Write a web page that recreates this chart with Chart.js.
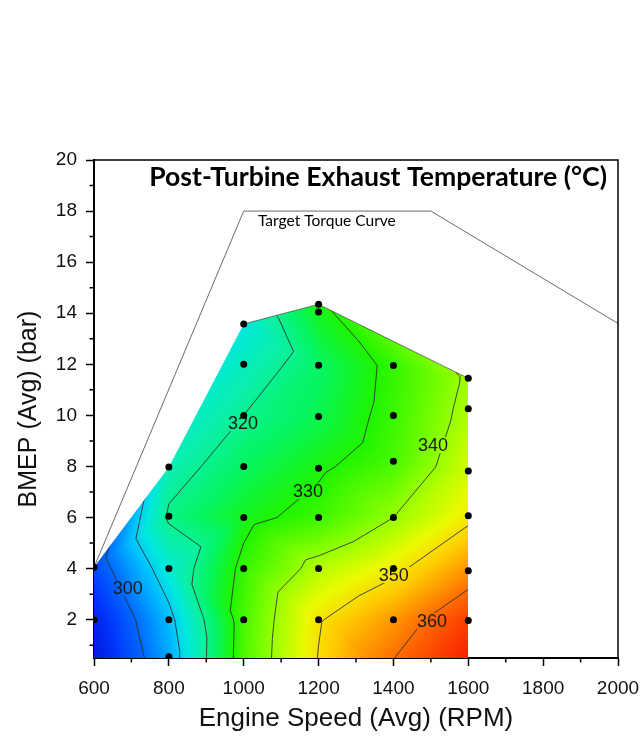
<!DOCTYPE html>
<html><head><meta charset="utf-8">
<script src="https://cdn.jsdelivr.net/npm/chart.js@4.4.0/dist/chart.umd.min.js"></script>
<style>html,body{margin:0;padding:0;background:#fff;}#wrap{width:641px;height:738px;}</style>
</head><body><div id="wrap"><canvas id="c" width="641" height="738"></canvas></div>
<script>
// ---- measured operating points (Engine speed RPM, BMEP bar, post-turbine exhaust temperature °C)
const speedRpm = [600,600,600, 800,800,800,800,800,
  1000,1000,1000,1000,1000,1000,1000,1000,
  1200,1200,1200,1200,1200,1200,1200,1200,1200,
  1400,1400,1400,1400,1400,1400,1400,
  1600,1600,1600,1600,1600,1600,1600];
const bmepBar = [0,2,4.05, 0.55,2,4,6.05,7.98,
  0,2,4,6,8,10,12,13.58,
  0,2,4,6,7.93,9.96,11.96,14.05,14.35,
  0,2,4,6,8.2,10,11.95,
  0,1.97,3.92,6.07,7.82,10.26,11.45];
const exhaustTempC = [287,290,296, 306,308,314,321,317,
  334,333.5,332,328,324,320,316,313,
  350.5,349.5,342.5,332.5,329,325,323.5,328,329,
  361,356.5,348.5,340,333.5,332.3,331.8,
  369,365,357,348.5,345,342,341];
// ---- outline of the mapped region
const regionRpm  = [600,600,800,1000,1200,1600,1600];
const regionBmep = [0,4.05,7.98,13.58,14.35,11.45,0];
// ---- target torque curve
const torqueRpm  = [600,1000,1500,2000];
const torqueBmep = [4.05,18,18,13.6];
// ---- contour levels and their labels
const contourLevels = [300,310,320,330,340,350,360];
const labelText = ['300','320','330','340','350','360'];
const labelRpm  = [690,998,1172,1506,1401,1503];
const labelBmep = [3.24,9.69,7.03,8.83,3.75,1.95];
// ---- axes
const xTickValues = [600,800,1000,1200,1400,1600,1800,2000];
const xMinorValues = [700,900,1100,1300,1500,1700,1900];
const yTickValues = [2,4,6,8,10,12,14,16,18,20];
const yMinorValues = [1,3,5,7,9,11,13,15,17,19];

const colorStops = [
  [285,[0,10,205]],[293,[0,50,250]],[300,[0,105,255]],[308,[0,190,255]],
  [313,[0,232,222]],[318,[10,240,170]],[324,[5,245,95]],[330,[30,245,0]],[340,[150,255,0]],
  [347,[235,250,0]],[352,[255,205,0]],[360,[255,110,0]],[368,[248,30,0]]];
function colorAt(T){
  if(T<=colorStops[0][0]) return colorStops[0][1];
  for(let i=1;i<colorStops.length;i++){
    if(T<=colorStops[i][0]){
      const [t0,c0]=colorStops[i-1],[t1,c1]=colorStops[i];
      const f=(T-t0)/(t1-t0);
      return [0,1,2].map(k=>Math.round(c0[k]+f*(c1[k]-c0[k])));
    }
  }
  return colorStops[colorStops.length-1][1];
}
function circum(P,t){
  const a=P[t[0]],b=P[t[1]],c=P[t[2]];
  const d=2*(a.x*(b.y-c.y)+b.x*(c.y-a.y)+c.x*(a.y-b.y));
  const A=a.x*a.x+a.y*a.y,B=b.x*b.x+b.y*b.y,C=c.x*c.x+c.y*c.y;
  const ux=(A*(b.y-c.y)+B*(c.y-a.y)+C*(a.y-b.y))/d;
  const uy=(A*(c.x-b.x)+B*(a.x-c.x)+C*(b.x-a.x))/d;
  return {x:ux,y:uy,r2:(a.x-ux)**2+(a.y-uy)**2};
}
function delaunay(pts){
  const n=pts.length;
  let minX=Infinity,minY=Infinity,maxX=-Infinity,maxY=-Infinity;
  pts.forEach(p=>{minX=Math.min(minX,p.x);minY=Math.min(minY,p.y);maxX=Math.max(maxX,p.x);maxY=Math.max(maxY,p.y);});
  const dm=Math.max(maxX-minX,maxY-minY)*30,mx=(minX+maxX)/2,my=(minY+maxY)/2;
  const P=pts.concat([{x:mx-dm,y:my-dm},{x:mx,y:my+dm},{x:mx+dm,y:my-dm}]);
  let tris=[{v:[n,n+1,n+2]}]; tris[0].c=circum(P,tris[0].v);
  for(let i=0;i<n;i++){
    const p=P[i],bad=[],keep=[];
    for(const t of tris){const dx=p.x-t.c.x,dy=p.y-t.c.y;(dx*dx+dy*dy<t.c.r2-1e-7?bad:keep).push(t);}
    const edges=new Map();
    for(const t of bad){const v=t.v;
      for(const [a,b] of [[v[0],v[1]],[v[1],v[2]],[v[2],v[0]]]){
        const k=a<b?a+','+b:b+','+a;
        if(edges.has(k)) edges.get(k).n++; else edges.set(k,{a,b,n:1});
      }}
    tris=keep;
    for(const e of edges.values()) if(e.n===1){const t={v:[e.a,e.b,i]};t.c=circum(P,t.v);tris.push(t);}
  }
  return tris.filter(t=>t.v.every(k=>k<n)).map(t=>t.v);
}
function regionPath(ctx,x,y){
  ctx.beginPath();
  regionRpm.forEach((r,i)=>{const X=x.getPixelForValue(r),Y=y.getPixelForValue(regionBmep[i]);i?ctx.lineTo(X,Y):ctx.moveTo(X,Y);});
  ctx.closePath();
}
const LABEL_FONT='18px "Liberation Sans", Arial, sans-serif';
const contourPlugin={
  id:'contour',
  beforeDatasetsDraw(chart){
    const {ctx,chartArea:a,scales:{x,y}}=chart;
    const pts=speedRpm.map((r,i)=>({x:x.getPixelForValue(r),y:y.getPixelForValue(bmepBar[i])}));
    const tris=delaunay(pts);
    const L0=Math.floor(a.left),T0=Math.floor(a.top);
    const W=Math.ceil(a.right)-L0,H=Math.ceil(a.bottom)-T0;
    const off=document.createElement('canvas');off.width=W;off.height=H;
    const octx=off.getContext('2d');const img=octx.createImageData(W,H);const d=img.data;
    for(const t of tris){
      const A=pts[t[0]],B=pts[t[1]],C=pts[t[2]];
      const ta=exhaustTempC[t[0]],tb=exhaustTempC[t[1]],tc=exhaustTempC[t[2]];
      const det=(B.y-C.y)*(A.x-C.x)+(C.x-B.x)*(A.y-C.y);
      const x0=Math.max(0,Math.floor(Math.min(A.x,B.x,C.x)-L0)-1),x1=Math.min(W-1,Math.ceil(Math.max(A.x,B.x,C.x)-L0)+1);
      const y0=Math.max(0,Math.floor(Math.min(A.y,B.y,C.y)-T0)-1),y1=Math.min(H-1,Math.ceil(Math.max(A.y,B.y,C.y)-T0)+1);
      for(let j=y0;j<=y1;j++)for(let i=x0;i<=x1;i++){
        const X=L0+i+0.5,Y=T0+j+0.5;
        const l1=((B.y-C.y)*(X-C.x)+(C.x-B.x)*(Y-C.y))/det;
        const l2=((C.y-A.y)*(X-C.x)+(A.x-C.x)*(Y-C.y))/det;
        const l3=1-l1-l2;
        if(l1<-1e-3||l2<-1e-3||l3<-1e-3) continue;
        const c=colorAt(l1*ta+l2*tb+l3*tc);const k=(j*W+i)*4;
        d[k]=c[0];d[k+1]=c[1];d[k+2]=c[2];d[k+3]=255;
      }
    }
    octx.putImageData(img,0,0);
    ctx.save();
    ctx.beginPath();ctx.rect(a.left,a.top,a.right-a.left,a.bottom-a.top);ctx.clip();
    regionPath(ctx,x,y);ctx.clip();
    ctx.drawImage(off,L0,T0);
    ctx.font=LABEL_FONT;
    const boxes=labelText.map((s,i)=>{const w=ctx.measureText(s).width;
      return {s,w,cx:x.getPixelForValue(labelRpm[i]),cy:y.getPixelForValue(labelBmep[i])};});
    ctx.save();
    ctx.beginPath();ctx.rect(a.left,a.top,a.right-a.left,a.bottom-a.top);
    boxes.forEach(b=>ctx.rect(b.cx-b.w/2-2,b.cy-8,b.w+4,16));
    ctx.clip('evenodd');
    ctx.beginPath();
    for(const L of contourLevels){
      for(const t of tris){
        const v=t.map(k=>exhaustTempC[k]===L?L+1e-6:exhaustTempC[k]);
        const sp=[];
        for(const [p,q] of [[0,1],[1,2],[2,0]]){
          if((v[p]-L)*(v[q]-L)<0){const f=(L-v[p])/(v[q]-v[p]);const P=pts[t[p]],Q=pts[t[q]];sp.push([P.x+f*(Q.x-P.x),P.y+f*(Q.y-P.y)]);}
        }
        if(sp.length===2){ctx.moveTo(sp[0][0],sp[0][1]);ctx.lineTo(sp[1][0],sp[1][1]);}
      }
    }
    ctx.strokeStyle='rgba(45,45,45,0.85)';ctx.lineWidth=1;ctx.stroke();
    ctx.restore();
    ctx.fillStyle='#1a1a1a';ctx.textAlign='center';ctx.textBaseline='middle';
    boxes.forEach(b=>ctx.fillText(b.s,b.cx,b.cy+1));
    ctx.restore();
    ctx.save();ctx.beginPath();
    for(let i=3;i<=5;i++){const X=x.getPixelForValue(regionRpm[i]),Y=y.getPixelForValue(regionBmep[i]);i===3?ctx.moveTo(X,Y):ctx.lineTo(X,Y);}
    ctx.strokeStyle='rgba(50,50,50,0.8)';ctx.lineWidth=0.8;ctx.stroke();ctx.restore();
  },
  afterDraw(chart){
    const {ctx,chartArea:a,scales:{x,y}}=chart;
    ctx.save();
    ctx.strokeStyle='#000';ctx.lineWidth=1.5;
    ctx.beginPath();ctx.moveTo(a.left,a.top);ctx.lineTo(a.right,a.top);ctx.lineTo(a.right,a.bottom);ctx.stroke();
    ctx.beginPath();
    xMinorValues.forEach(v=>{const X=x.getPixelForValue(v);ctx.moveTo(X,a.bottom);ctx.lineTo(X,a.bottom+4.5);});
    yMinorValues.forEach(v=>{const Y=y.getPixelForValue(v);ctx.moveTo(a.left,Y);ctx.lineTo(a.left-4.5,Y);});
    ctx.stroke();
    ctx.fillStyle='#000';ctx.textBaseline='middle';ctx.textAlign='right';
    const title='Post-Turbine Exhaust Temperature (°C)';
    ctx.font='bold 100px Lato';const tw=ctx.measureText(title).width;
    ctx.font='bold '+(100*458/tw).toFixed(2)+'px Lato';
    ctx.fillText(title,a.right-11,a.top+17);
    const tl='Target Torque Curve';
    ctx.font='100px Lato';const lw=ctx.measureText(tl).width;
    ctx.font=(100*138/lw).toFixed(2)+'px Lato';ctx.textAlign='left';
    ctx.fillText(tl,x.getPixelForValue(1038),y.getPixelForValue(17.62));
    ctx.restore();
  }
};
const tickFont={family:'"Liberation Sans", Arial, sans-serif',size:19};
const titleFont={family:'"Liberation Sans", Arial, sans-serif',size:25};
new Chart(document.getElementById('c'),{
  type:'scatter',
  data:{datasets:[
    {label:'Operating points',data:speedRpm.map((r,i)=>({x:r,y:bmepBar[i]})),
     pointRadius:3.5,pointHoverRadius:3.5,pointBackgroundColor:'#000',pointBorderWidth:0,backgroundColor:'#000'},
    {label:'Target Torque Curve',data:torqueRpm.map((r,i)=>({x:r,y:torqueBmep[i]})),
     showLine:true,borderColor:'#5a5a5a',borderWidth:0.9,pointRadius:0,tension:0,clip:false}
  ]},
  options:{
    responsive:false,animation:false,devicePixelRatio:1,
    layout:{padding:{top:160,right:23,left:0,bottom:0}},
    plugins:{legend:{display:false},tooltip:{enabled:false}},
    scales:{
      x:{type:'linear',min:600,max:2000,
        afterBuildTicks:s=>{s.ticks=xTickValues.map(v=>({value:v}));},
        afterFit:s=>{s.height=80;s.paddingLeft=0;s.paddingRight=0;},
        ticks:{font:tickFont,color:'#111',padding:11,maxRotation:0,callback:v=>String(v)},
        grid:{drawOnChartArea:false,tickLength:8,tickColor:'#000',tickWidth:1.5},
        border:{color:'#000',width:2},
        title:{display:true,text:'Engine Speed (Avg) (RPM)',font:{family:'"Liberation Sans", Arial, sans-serif',size:26},color:'#111',padding:{bottom:4}}},
      y:{type:'linear',min:0.5,max:20,
        afterBuildTicks:s=>{s.ticks=yTickValues.map(v=>({value:v}));},
        afterFit:s=>{s.width=94;s.paddingTop=0;s.paddingBottom=0;},
        ticks:{font:tickFont,color:'#111',padding:9,callback:v=>String(v)},
        grid:{drawOnChartArea:false,tickLength:8,tickColor:'#000',tickWidth:1.5},
        border:{color:'#000',width:2},
        title:{display:true,text:'BMEP (Avg) (bar)',font:titleFont,color:'#111',padding:{top:14}}}
    }
  },
  plugins:[contourPlugin]
});
</script></body></html>
